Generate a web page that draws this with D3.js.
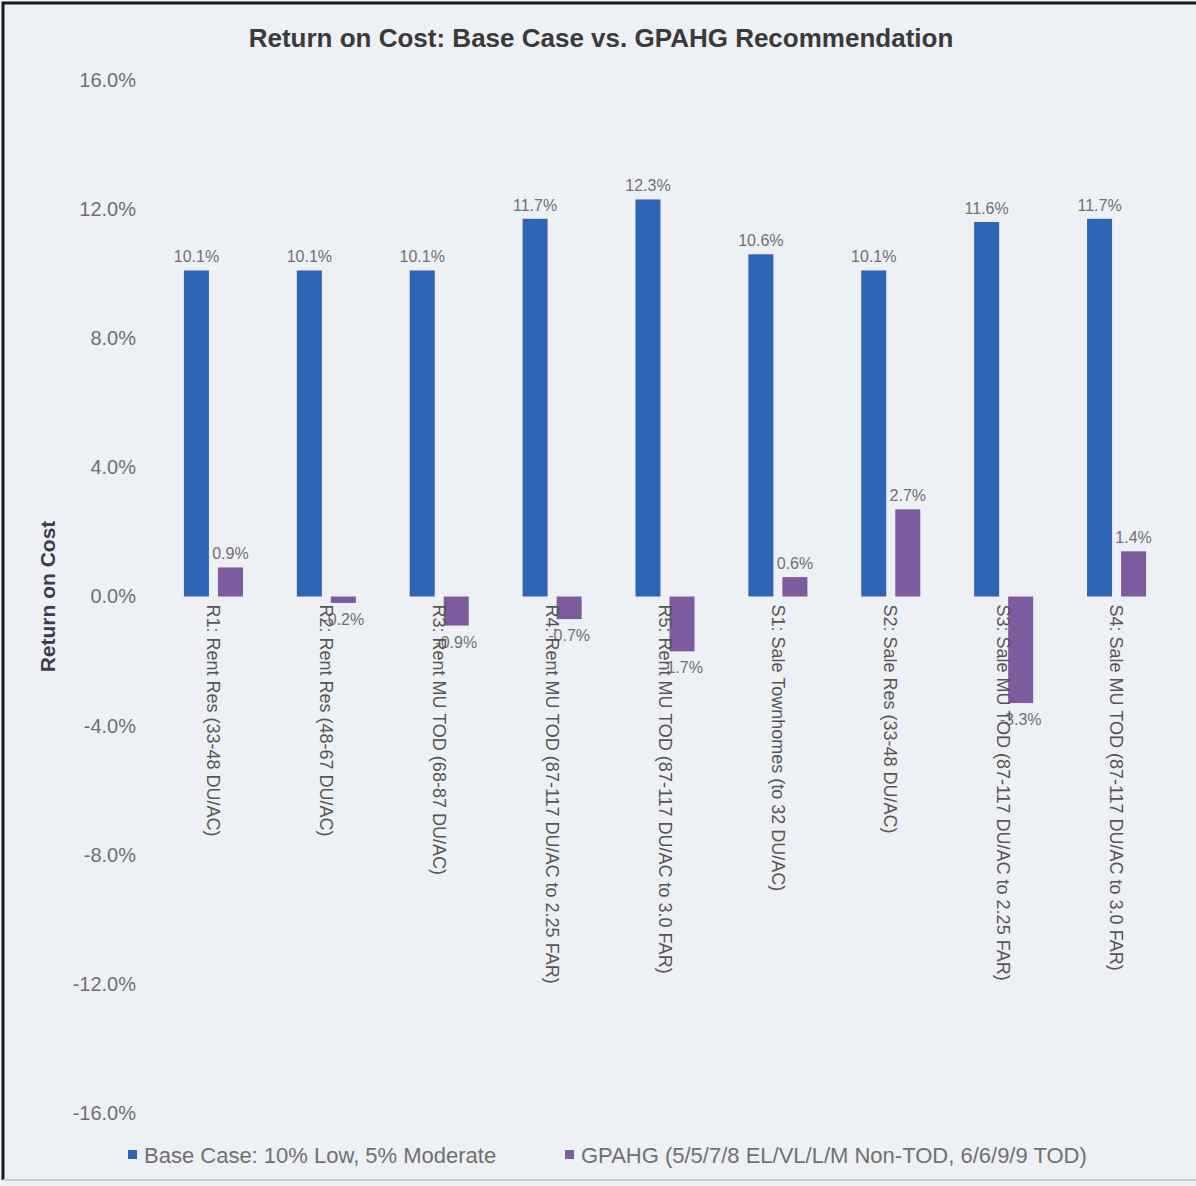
<!DOCTYPE html>
<html>
<head>
<meta charset="utf-8">
<script src="https://cdn.jsdelivr.net/npm/d3@7"></script>
<style>
  html, body { margin: 0; padding: 0; background: #edf0f4; }
  svg { display: block; }
  text { font-family: "Liberation Sans", Arial, sans-serif; }
</style>
</head>
<body>
<svg id="chart" width="1196" height="1186"></svg>
<script>
// Categories (development prototypes)
const categories = [
  "R1: Rent Res (33-48 DU/AC)",
  "R2: Rent Res (48-67 DU/AC)",
  "R3: Rent MU TOD (68-87 DU/AC)",
  "R4: Rent MU TOD (87-117 DU/AC to 2.25 FAR)",
  "R5: Rent MU TOD (87-117 DU/AC to 3.0 FAR)",
  "S1: Sale Townhomes (to 32 DU/AC)",
  "S2: Sale Res (33-48 DU/AC)",
  "S3: Sale MU TOD (87-117 DU/AC to 2.25 FAR)",
  "S4: Sale MU TOD (87-117 DU/AC to 3.0 FAR)"
];

// Return on cost, percent
const baseCase = [10.1, 10.1, 10.1, 11.7, 12.3, 10.6, 10.1, 11.6, 11.7];
const gpahg    = [0.9, -0.2, -0.9, -0.7, -1.7, 0.6, 2.7, -3.3, 1.4];

const seriesNames = [
  "Base Case: 10% Low, 5% Moderate",
  "GPAHG (5/5/7/8 EL/VL/L/M Non-TOD, 6/6/9/9 TOD)"
];
const seriesColors = ["#2f63b6", "#7c5c9e"];

const yTicks = [-16, -12, -8, -4, 0, 4, 8, 12, 16];

const svg = d3.select("#chart");
const W = 1196, H = 1186;

// percent with a plain hyphen for negatives
const pct = d => (d < 0 ? "-" : "") + d3.format(".1f")(Math.abs(d)) + "%";

// frame
svg.append("rect").attr("x", 0).attr("y", 0).attr("width", W).attr("height", H).attr("fill", "#edf0f4");
svg.append("path")
  .attr("d", `M3,${H - 6} V3 H${W}`)
  .attr("fill", "none").attr("stroke", "#1a1a1a").attr("stroke-width", 3);
svg.append("line")
  .attr("x1", 3).attr("x2", W).attr("y1", H - 6).attr("y2", H - 6)
  .attr("stroke", "#c9ccd2").attr("stroke-width", 2);

// title
svg.append("text")
  .attr("x", 601).attr("y", 47)
  .attr("text-anchor", "middle")
  .attr("font-size", 26).attr("font-weight", "bold")
  .attr("fill", "#3a3a3a")
  .text("Return on Cost: Base Case vs. GPAHG Recommendation");

// scales
const x0 = d3.scaleBand().domain(categories).range([157, 1173])
  .paddingInner(0.477).paddingOuter(0.2385);
const x1 = d3.scaleBand().domain([0, 1]).range([0, x0.bandwidth()]).paddingInner(0.265);
const y = d3.scaleLinear().domain([-16, 16]).range([1113, 80]);

// y axis (labels only)
const yAxis = d3.axisLeft(y).tickValues(yTicks).tickSize(0).tickPadding(0)
  .tickFormat(pct);
const gy = svg.append("g").attr("transform", "translate(136,0)").call(yAxis);
gy.select(".domain").remove();
gy.selectAll("text")
  .attr("font-size", 20).attr("fill", "#707070")
  .attr("font-family", "Liberation Sans, Arial, sans-serif");

// y axis title
svg.append("text")
  .attr("transform", `translate(55,${y(0)}) rotate(-90)`)
  .attr("text-anchor", "middle")
  .attr("font-size", 21).attr("font-weight", "bold")
  .attr("fill", "#3b3b52")
  .text("Return on Cost");

const rows = categories.map((c, i) => ({ cat: c, vals: [baseCase[i], gpahg[i]] }));

// bars
const groups = svg.append("g").selectAll("g").data(rows).join("g")
  .attr("transform", d => `translate(${x0(d.cat)},0)`);

groups.selectAll("rect").data(d => d.vals.map((v, s) => ({ v, s }))).join("rect")
  .attr("x", d => x1(d.s))
  .attr("width", x1.bandwidth())
  .attr("y", d => y(Math.max(0, d.v)))
  .attr("height", d => Math.abs(y(d.v) - y(0)))
  .attr("fill", d => seriesColors[d.s]);

// value labels
groups.selectAll("text.val").data(d => d.vals.map((v, s) => ({ v, s }))).join("text")
  .attr("class", "val")
  .attr("x", d => x1(d.s) + x1.bandwidth() / 2)
  .attr("y", d => d.v >= 0 ? y(d.v) - 8 : y(d.v) + 22)
  .attr("text-anchor", "middle")
  .attr("font-size", 16).attr("fill", "#707070")
  .text(d => pct(d.v));

// category labels, rotated to read downward
groups.append("text")
  .attr("transform", d => `translate(${x0.bandwidth() / 2},${y(0) + 8}) rotate(90)`)
  .attr("dy", "0.35em")
  .attr("font-size", 18).attr("fill", "#555")
  .text(d => d.cat);

// legend
const legendItems = [{ x: 128, s: 0 }, { x: 565, s: 1 }];
const lg = svg.append("g").selectAll("g").data(legendItems).join("g")
  .attr("transform", d => `translate(${d.x},1155)`);
lg.append("rect").attr("x", 0).attr("y", -5).attr("width", 9).attr("height", 9)
  .attr("fill", d => seriesColors[d.s]);
lg.append("text").attr("x", 16).attr("dy", "0.35em")
  .attr("font-size", 22).attr("fill", "#707070")
  .text(d => seriesNames[d.s]);
</script>
</body>
</html>
